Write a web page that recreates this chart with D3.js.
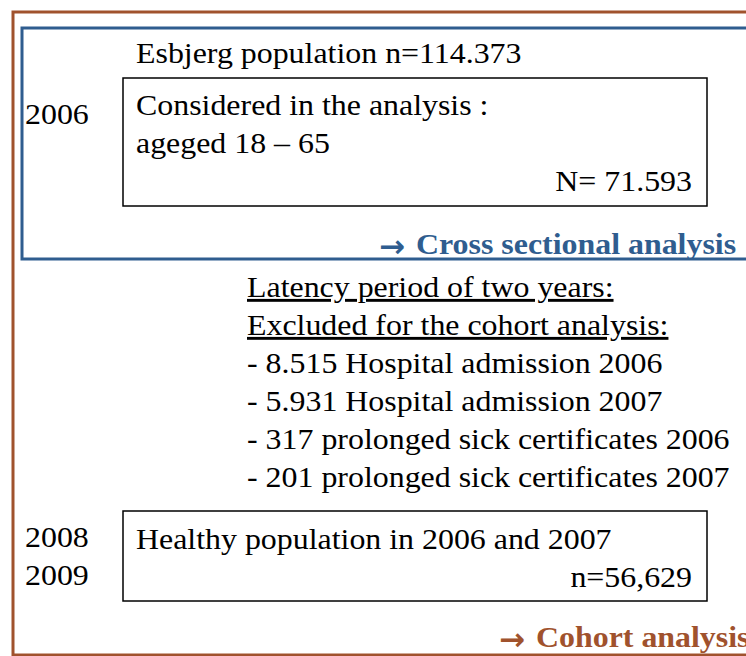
<!DOCTYPE html>
<html>
<head>
<meta charset="utf-8">
<script src="https://cdn.jsdelivr.net/npm/d3@7"></script>
<style>
  body { margin: 0; background: #fff; }
  svg { display: block; }
</style>
</head>
<body>
<svg id="chart" width="746" height="656"></svg>
<script>
const YEARS_TOP = ["2006"];
const YEARS_BOTTOM = ["2008", "2009"];
const POPULATION_LABEL = "Esbjerg population n=114.373";
const BOX1_LINES = ["Considered in the analysis :", "ageged 18 \u2013 65"];
const BOX1_TOTAL = "N= 71.593";
const CROSS_LABEL = "Cross sectional analysis";
const EXCLUSION_HEADERS = ["Latency period of two years:", "Excluded for the cohort analysis:"];
const EXCLUSIONS = [
  "- 8.515 Hospital admission 2006",
  "- 5.931 Hospital admission 2007",
  "- 317 prolonged sick certificates 2006",
  "- 201 prolonged sick certificates 2007"
];
const BOX2_LINES = ["Healthy population in 2006 and 2007"];
const BOX2_TOTAL = "n=56,629";
const COHORT_LABEL = "Cohort analysis";

const BROWN = "#a0522d";
const BLUE = "#2f5d8f";
const SERIF = "'Liberation Serif', 'Times New Roman', serif";
const FONT = 29;
const STRETCH = 1.1; // the source slide is a little wider than Times
const LINE = 38;

const svg = d3.select("#chart");

// outer (cohort) frame, runs off the right edge like the slide
svg.append("rect")
  .attr("x", 13).attr("y", 12)
  .attr("width", 800).attr("height", 643)
  .attr("fill", "none")
  .attr("stroke", BROWN)
  .attr("stroke-width", 3);

// inner (cross sectional) frame
svg.append("rect")
  .attr("x", 22).attr("y", 28)
  .attr("width", 800).attr("height", 231)
  .attr("fill", "none")
  .attr("stroke", BLUE)
  .attr("stroke-width", 3);

function box(x, y, w, h) {
  svg.append("rect")
    .attr("x", x).attr("y", y)
    .attr("width", w).attr("height", h)
    .attr("fill", "none")
    .attr("stroke", "#000")
    .attr("stroke-width", 1.5);
}

function lines(arr, x, y0, opts = {}) {
  return svg.append("g").selectAll("text")
    .data(arr)
    .join("text")
    .attr("transform", (d, i) => `translate(${x},${y0 + i * LINE}) scale(${opts.stretch || STRETCH},1)`)
    .style("font-family", SERIF)
    .attr("font-size", opts.size || FONT)
    .attr("text-anchor", opts.anchor || "start")
    .attr("font-weight", opts.bold ? "bold" : null)
    .attr("fill", opts.color || "#000")
    .attr("text-decoration", opts.underline ? "underline" : null)
    .text(d => d);
}

function arrowLabel(label, x, y, color) {
  svg.append("text")
    .attr("x", x - 1).attr("y", y + 3)
    .style("font-family", "'DejaVu Sans', sans-serif")
    .attr("font-weight", "bold")
    .attr("font-size", 31)
    .attr("fill", color)
    .text("\u2192");
  lines([label], x + 36, y, { bold: true, color, stretch: 1.1 });
}

box(123, 78, 584, 128);
box(123, 511, 584, 90);

lines([POPULATION_LABEL], 136, 63);
lines(YEARS_TOP, 25, 124);
lines(BOX1_LINES, 136, 115);
lines([BOX1_TOTAL], 692, 191, { anchor: "end" });
arrowLabel(CROSS_LABEL, 380, 254, BLUE);

lines(EXCLUSION_HEADERS, 247, 297, { underline: true });
lines(EXCLUSIONS, 247, 297 + EXCLUSION_HEADERS.length * LINE);

lines(YEARS_BOTTOM, 25, 547);
lines(BOX2_LINES, 136, 549);
lines([BOX2_TOTAL], 692, 587, { anchor: "end" });
arrowLabel(COHORT_LABEL, 500, 647, BROWN);
</script>
</body>
</html>
